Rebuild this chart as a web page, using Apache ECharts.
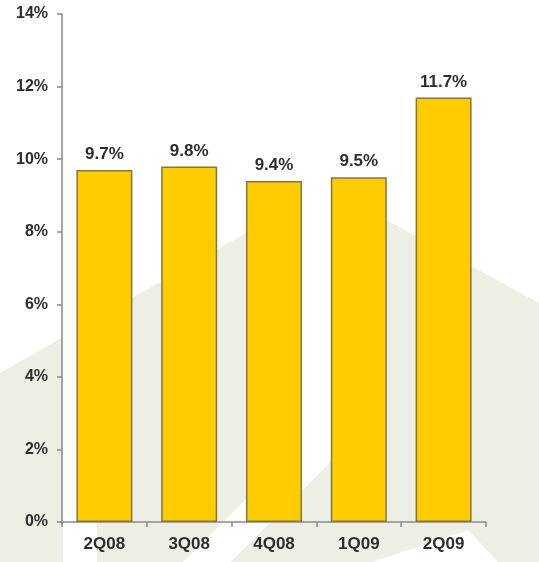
<!DOCTYPE html>
<html>
<head>
<meta charset="utf-8">
<script src="https://cdn.jsdelivr.net/npm/echarts@6/dist/echarts.min.js"></script>
<style>
  html, body { margin: 0; padding: 0; background: #ffffff; }
  #chart { width: 539px; height: 562px; }
</style>
</head>
<body>
<div id="chart"></div>
<script>
// Quarterly ratio, in percent
const quarters = ['2Q08', '3Q08', '4Q08', '1Q09', '2Q09'];
const ratioValues = [9.7, 9.8, 9.4, 9.5, 11.7];
const yTicks = [0, 2, 4, 6, 8, 10, 12, 14];

const textColor = '#2e2e2e';
const beige = '#edeee4';
const font = '"Liberation Sans", Arial, sans-serif';

const chart = echarts.init(document.getElementById('chart'), null, { renderer: 'canvas' });

chart.setOption({
  backgroundColor: '#ffffff',
  animation: false,
  // faint backdrop shapes behind the plot
  graphic: [
    { type: 'polygon', z: -10, silent: true,
      shape: { points: [[0, 373], [276, 216], [276, 469], [183, 562], [0, 562]] },
      style: { fill: beige } },
    { type: 'polygon', z: -10, silent: true,
      shape: { points: [[231, 562], [334, 459], [346, 198], [539, 303], [539, 562]] },
      style: { fill: beige } },
    { type: 'polygon', z: -9, silent: true,
      shape: { points: [[63, 330], [97, 330], [97, 562], [63, 562]] },
      style: { fill: '#ffffff' } },
    { type: 'polygon', z: -9, silent: true,
      shape: { points: [[372, 562], [468, 530], [498, 562]] },
      style: { fill: '#ffffff' } }
  ],
  grid: { left: 62, right: 53, top: 14, bottom: 40, containLabel: false },
  xAxis: {
    type: 'category',
    data: quarters,
    boundaryGap: true,
    axisLine: { show: true, lineStyle: { color: '#8a8a8a', width: 1.5 } },
    axisTick: { show: true, length: 5, alignWithLabel: false, lineStyle: { color: '#8a8a8a', width: 1.5 } },
    axisLabel: { color: textColor, fontFamily: font, fontWeight: 'bold', fontSize: 17, margin: 14 },
    splitLine: { show: false }
  },
  yAxis: {
    type: 'value',
    min: yTicks[0],
    max: yTicks[yTicks.length - 1],
    interval: 2,
    axisLine: { show: true, lineStyle: { color: '#8a8a8a', width: 1.5 } },
    axisTick: { show: true, length: 5, lineStyle: { color: '#8a8a8a', width: 1.5 } },
    axisLabel: { color: textColor, fontFamily: font, fontWeight: 'bold', fontSize: 16, margin: 14,
                 formatter: v => v + '%' },
    splitLine: { show: false }
  },
  series: [{
    type: 'bar',
    data: ratioValues,
    barWidth: 56,
    itemStyle: { color: '#ffcc00', borderColor: '#857540', borderWidth: 1.5 },
    label: {
      show: true,
      position: 'top',
      distance: 7,
      color: textColor,
      fontFamily: font,
      fontWeight: 'bold',
      fontSize: 17,
      formatter: p => p.value.toFixed(1) + '%'
    }
  }]
});
</script>
</body>
</html>
